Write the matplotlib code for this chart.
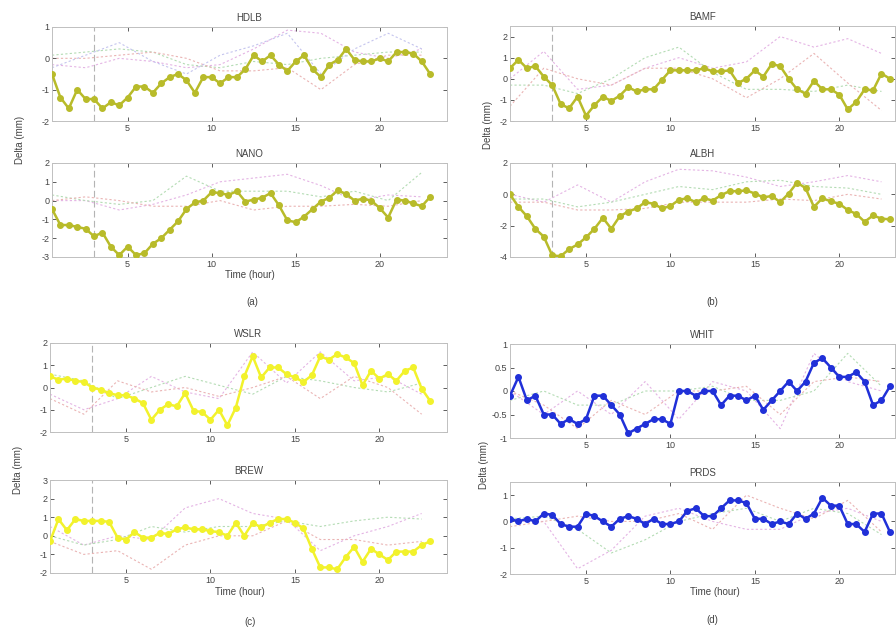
import matplotlib
matplotlib.use("Agg")
import matplotlib.pyplot as plt
import numpy as np

plt.rcParams["font.family"] = ["Liberation Sans", "DejaVu Sans"]

W, H = 896, 629

# half-hourly epochs (hours)
hours = np.arange(0.5, 23.01, 0.5)
# coarse epochs for the faint reference series
bg_hours = np.arange(0.5, 23.0, 2.0)

# main series (mm)
hdlb = [-0.5, -1.25, -1.6, -1.0, -1.3, -1.3, -1.6, -1.4, -1.5, -1.25, -0.9, -0.9,
        -1.1, -0.8, -0.6, -0.5, -0.7, -1.1, -0.6, -0.6, -0.8, -0.6, -0.6, -0.35,
        0.1, -0.1, 0.1, -0.2, -0.4, -0.1, 0.1, -0.35, -0.6, -0.2, -0.05, 0.3,
        -0.05, -0.1, -0.1, 0.0, -0.1, 0.2, 0.2, 0.15, -0.1, -0.5]
nano = [-0.45, -1.3, -1.3, -1.4, -1.5, -1.9, -1.7, -2.45, -2.9, -2.45, -2.9, -2.8,
        -2.3, -2.0, -1.55, -1.1, -0.45, -0.1, 0.0, 0.45, 0.4, 0.3, 0.5, -0.05,
        0.05, 0.15, 0.4, -0.25, -1.05, -1.15, -0.85, -0.45, -0.05, 0.15, 0.55, 0.35,
        0.0, 0.1, 0.0, -0.4, -0.9, 0.05, 0.0, -0.15, -0.3, 0.2]
bamf = [0.5, 0.9, 0.5, 0.6, 0.1, -0.3, -1.2, -1.4, -0.85, -1.75, -1.25, -0.85,
        -1.05, -0.8, -0.4, -0.6, -0.5, -0.5, -0.05, 0.4, 0.4, 0.4, 0.4, 0.5,
        0.35, 0.35, 0.4, -0.2, 0.0, 0.4, 0.1, 0.7, 0.6, 0.0, -0.5, -0.7,
        -0.1, -0.5, -0.5, -0.75, -1.45, -1.1, -0.5, -0.55, 0.25, 0.0]
albh = [0.0, -0.8, -1.4, -2.2, -2.7, -3.9, -3.95, -3.5, -3.2, -2.75, -2.2, -1.5,
        -2.2, -1.4, -1.1, -0.9, -0.5, -0.6, -0.9, -0.75, -0.35, -0.25, -0.5, -0.25,
        -0.4, -0.05, 0.2, 0.2, 0.25, 0.05, -0.2, -0.1, -0.5, 0.05, 0.75, 0.4,
        -0.8, -0.25, -0.45, -0.6, -1.0, -1.25, -1.75, -1.35, -1.55, -1.6]
wslr = [0.5, 0.35, 0.4, 0.3, 0.25, 0.0, -0.1, -0.25, -0.35, -0.35, -0.5, -0.7,
        -1.45, -1.0, -0.75, -0.85, -0.25, -1.05, -1.1, -1.45, -1.0, -1.7, -0.9, 0.5,
        1.4, 0.45, 0.9, 0.9, 0.6, 0.45, 0.25, 0.55, 1.4, 1.25, 1.5, 1.35,
        1.1, 0.1, 0.75, 0.4, 0.6, 0.3, 0.75, 0.9, -0.05, -0.6]
brew = [-0.3, 0.9, 0.3, 0.9, 0.8, 0.8, 0.8, 0.75, -0.1, -0.2, 0.2, -0.1,
        -0.1, 0.15, 0.1, 0.35, 0.45, 0.35, 0.35, 0.25, 0.2, 0.0, 0.7, 0.0,
        0.7, 0.45, 0.7, 0.9, 0.9, 0.7, 0.4, -0.7, -1.7, -1.7, -1.8, -1.15,
        -0.6, -1.4, -0.7, -1.0, -1.3, -0.85, -0.85, -0.85, -0.5, -0.3]
whit = [-0.1, 0.3, -0.2, -0.1, -0.5, -0.5, -0.7, -0.6, -0.7, -0.6, -0.1, -0.1,
        -0.3, -0.5, -0.9, -0.8, -0.7, -0.6, -0.6, -0.7, 0.0, 0.0, -0.1, 0.0,
        0.0, -0.3, -0.1, -0.1, -0.2, -0.1, -0.4, -0.2, 0.0, 0.2, 0.0, 0.2,
        0.6, 0.7, 0.5, 0.3, 0.3, 0.4, 0.2, -0.3, -0.2, 0.1]
prds = [0.1, 0.0, 0.1, 0.0, 0.3, 0.25, -0.1, -0.2, -0.2, 0.3, 0.2, 0.0,
        -0.2, 0.1, 0.2, 0.1, -0.1, 0.1, -0.1, -0.1, 0.0, 0.4, 0.5, 0.2,
        0.2, 0.5, 0.8, 0.8, 0.7, 0.1, 0.1, -0.1, 0.0, -0.1, 0.3, 0.1,
        0.3, 0.9, 0.6, 0.6, -0.1, -0.1, -0.4, 0.3, 0.3, -0.4]

# faint reference series (mm), read every 2 h
hdlb_bg = [[-0.2, -0.3, 0.0, -0.1, -0.3, -0.2, 0.3, 0.9, 0.8, 0.2, 0.0, 0.3],
           [0.1, 0.2, 0.3, 0.2, -0.2, -0.3, -0.1, -0.2, 0.0, 0.1, 0.2, 0.2],
           [0.0, 0.0, 0.1, 0.2, 0.0, -0.4, -0.4, -0.3, -1.0, -0.2, 0.1, 0.1],
           [-0.3, 0.1, 0.5, -0.1, -0.5, 0.1, 0.4, 0.8, -0.5, 0.3, 0.8, 0.3]]
nano_bg = [[0.0, 0.0, -0.5, -0.2, 0.3, 1.0, 1.2, 1.4, 0.8, 0.0, 0.3, 0.2],
           [0.3, 0.0, -0.2, 0.0, 1.3, 0.5, 0.5, 0.5, 0.2, 0.5, 0.0, 1.5],
           [0.0, 0.2, 0.0, -0.3, -0.3, 0.0, -0.5, -0.3, -0.3, -0.2, -0.3, 0.0]]
bamf_bg = [[0.0, 1.3, -0.5, -0.3, 0.5, 1.0, 0.5, 0.8, 2.0, 1.5, 1.9, 1.2],
           [-0.3, -0.3, -0.7, 0.0, 1.0, 1.5, 0.3, -0.5, -0.5, -0.6, -0.3, -0.6],
           [-1.3, 0.5, 0.0, -0.3, 0.5, 0.5, 0.0, -0.9, 0.0, 1.2, -0.2, -1.5]]
albh_bg = [[0.0, -0.5, 0.6, -0.5, 0.8, 1.6, 1.5, 1.1, 0.5, 0.8, 1.2, 0.8],
           [-0.3, -0.3, -0.8, -0.5, 0.0, 0.5, 0.3, 0.8, 0.9, 0.5, 0.4, 0.0],
           [-0.5, -0.5, -1.0, -1.0, -0.9, -0.5, -0.5, -0.5, -0.3, -0.4, 0.0, -0.3]]
wslr_bg = [[-0.3, -1.0, -0.5, 0.5, -0.2, -0.5, 1.6, 0.2, 1.6, 0.3, 0.5, -0.3],
           [0.6, 0.3, -0.5, 0.0, 0.5, 0.1, -0.3, 0.5, 0.3, 0.0, -0.2, 0.2],
           [-0.5, -1.2, 0.3, -0.2, 0.0, -0.4, 0.0, 0.5, -0.5, 0.5, 0.0, -1.2]]
brew_bg = [[0.5, -0.5, 0.0, -0.2, 1.5, 2.0, 1.2, 0.9, -0.8, 0.0, 0.5, 1.2],
           [0.0, -0.5, -0.2, 0.5, 0.2, 0.5, 0.5, 0.8, 0.5, 0.8, 1.0, 0.9],
           [-0.3, -1.0, -0.8, -1.8, -0.5, 0.0, 0.0, 0.8, -0.2, -0.2, -0.5, -0.3]]
whit_bg = [[0.0, -0.5, 0.0, -0.5, 0.2, -0.6, 0.2, 0.0, -0.8, 0.8, 0.2, 0.0],
           [-0.2, 0.0, -0.3, -0.3, 0.0, 0.0, 0.1, -0.2, -0.2, 0.0, 0.8, 0.1],
           [0.0, -0.3, -0.8, -0.2, -0.5, 0.0, 0.0, 0.1, -0.5, 0.2, 0.3, 0.2]]
prds_bg = [[0.0, 0.0, -1.8, -1.1, 0.2, 0.5, 0.0, -0.3, -0.3, 0.3, 0.5, 0.0],
           [0.1, 0.2, -0.3, -1.2, -0.7, 0.0, 0.3, 0.5, 0.0, 0.5, 0.3, -0.5],
           [-0.2, 0.0, 0.2, 0.0, 0.0, 0.3, -0.3, 1.0, 0.5, 0.1, 0.8, -0.4]]

BG_COLORS = ["#e4b4e4", "#b4dcb4", "#eab4b4", "#c4c4ee"]
TXT = "#444444"


def rect(left, right, top, bottom):
    return [left / W, 1 - bottom / H, (right - left) / W, (bottom - top) / H]


def panel(fig, box, title, main, bg, color, ylim, yticks, xmax, vline=True):
    ax = fig.add_axes(rect(*box))
    for i, series in enumerate(bg):
        ax.plot(bg_hours, series, color=BG_COLORS[i % len(BG_COLORS)],
                lw=0.8, ls=(0, (2, 2)), zorder=1)
    if vline:
        ax.axvline(3, color="#b4b4b4", lw=0.8, ls=(0, (6, 3)), zorder=0)
    ax.plot(hours, main, color=color, lw=1.8, marker="o", ms=4, zorder=3)
    ax.set_xlim(0.5, xmax)
    ax.set_ylim(*ylim)
    ax.set_xticks([5, 10, 15, 20])
    ax.set_yticks(yticks)
    ax.set_yticklabels([f"{v:g}" for v in yticks])
    ax.tick_params(direction="in", top=True, right=True, labelsize=6.5,
                   colors=TXT, length=3, width=0.6, pad=2)
    for sp in ax.spines.values():
        sp.set_color("#c0c0c0")
        sp.set_linewidth(0.7)
    ax.set_title(title, fontsize=7, color=TXT, pad=4)
    return ax


fig = plt.figure(figsize=(W / 100, H / 100), dpi=100)

olive = "#b8bb2a"
yellow = "#f2f22c"
blue = "#2030d8"

panel(fig, (52, 447, 27, 121), "HDLB", hdlb, hdlb_bg, olive, (-2, 1), [-2, -1, 0, 1], 24)
panel(fig, (52, 447, 163, 257), "NANO", nano, nano_bg, olive, (-3, 2), [-3, -2, -1, 0, 1, 2], 24)
panel(fig, (510, 895, 26, 121), "BAMF", bamf, bamf_bg, olive, (-2, 2.5), [-2, -1, 0, 1, 2], 23.3)
panel(fig, (510, 895, 163, 257), "ALBH", albh, albh_bg, olive, (-4, 2), [-4, -2, 0, 2], 23.3)
panel(fig, (50, 447, 343, 432), "WSLR", wslr, wslr_bg, yellow, (-2, 2), [-2, -1, 0, 1, 2], 24)
panel(fig, (50, 447, 480, 573), "BREW", brew, brew_bg, yellow, (-2, 3), [-2, -1, 0, 1, 2, 3], 24)
panel(fig, (510, 895, 344, 438), "WHIT", whit, whit_bg, blue, (-1, 1), [-1, -0.5, 0, 0.5, 1], 23.3, vline=False)
panel(fig, (510, 895, 482, 574), "PRDS", prds, prds_bg, blue, (-2, 1.5), [-2, -1, 0, 1], 23.3, vline=False)

# shared labels
for x, y in [(20, 140), (488, 125), (18, 470), (484, 465)]:
    fig.text(x / W, 1 - y / H, "Delta (mm)", rotation=90, ha="center", va="center",
             fontsize=7, color=TXT)
for x, y in [(250, 275), (240, 592), (715, 592)]:
    fig.text(x / W, 1 - y / H, "Time (hour)", ha="center", va="center", fontsize=7, color=TXT)
for x, y, s in [(252, 302, "(a)"), (712, 302, "(b)"), (250, 622, "(c)"), (712, 620, "(d)")]:
    fig.text(x / W, 1 - y / H, s, ha="center", va="center", fontsize=7, color=TXT)

fig.savefig("out.png", dpi=100)
